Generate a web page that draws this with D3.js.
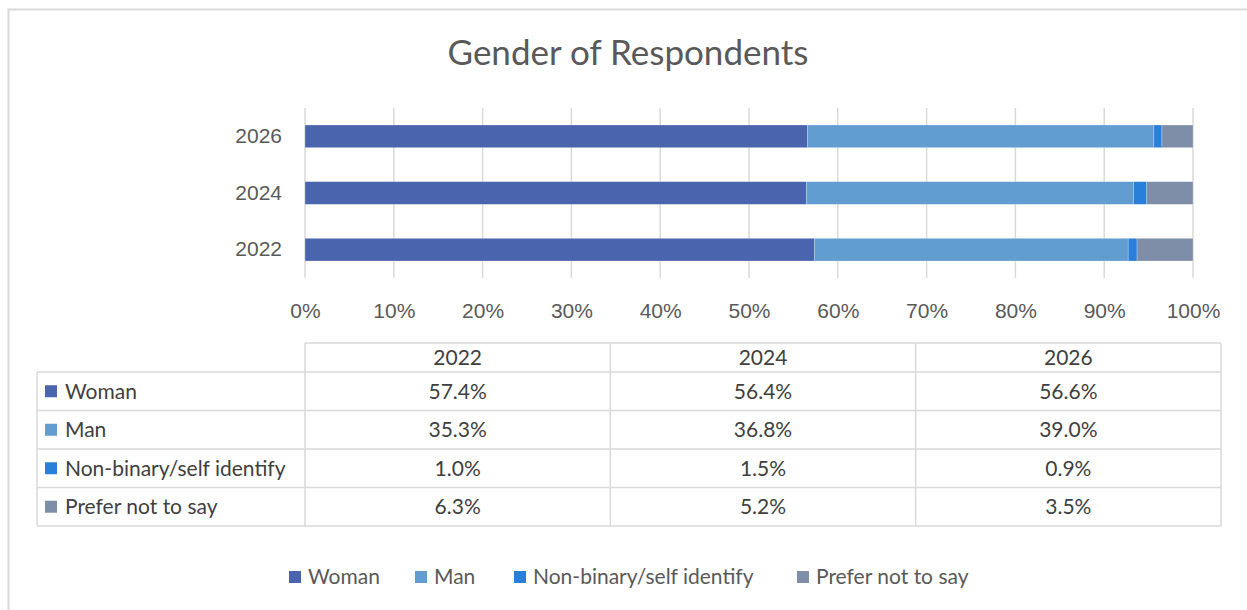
<!DOCTYPE html>
<html>
<head>
<meta charset="utf-8">
<script src="https://cdn.jsdelivr.net/npm/d3@7"></script>
<style>
  body { margin: 0; background: #fff; }
  svg { display: block; font-family: Lato, "Open Sans", sans-serif; }
</style>
</head>
<body>
<div id="chart"></div>
<script>
// data
const years = ["2022", "2024", "2026"];
const categories = ["Woman", "Man", "Non-binary/self identify", "Prefer not to say"];
const woman = [57.4, 56.4, 56.6];
const man = [35.3, 36.8, 39.0];
const nonBinary = [1.0, 1.5, 0.9];
const preferNot = [6.3, 5.2, 3.5];
const xTicks = [0, 10, 20, 30, 40, 50, 60, 70, 80, 90, 100];

const COLORS = ["#4a65ad", "#619dd1", "#2a7fd8", "#7f8ea8"];
const GRID = "#d9d9d9";
const TEXT = "#595959";
const FS = "21px";

const series = [woman, man, nonBinary, preferNot];

const W = 1247, H = 610;
const svg = d3.select("#chart").append("svg")
    .attr("width", W).attr("height", H);

// chart frame (runs off the right and bottom edge like the picture)
svg.append("rect")
    .attr("x", 8.5).attr("y", 9.5)
    .attr("width", 1260).attr("height", 620)
    .attr("fill", "none").attr("stroke", GRID).attr("stroke-width", 2);

svg.append("text")
    .attr("x", 628).attr("y", 65)
    .attr("text-anchor", "middle")
    .attr("fill", TEXT)
    .style("font-size", "35px")
    .text("Gender of Respondents");

// stack the data, normalised to 100 like an Excel 100% bar chart
const rows = years.map((y, i) => {
    const r = { year: y };
    const total = d3.sum(series, s => s[i]);
    categories.forEach((c, k) => r[c] = series[k][i] / total * 100);
    return r;
});
const stacked = d3.stack().keys(categories)(rows);

const x = d3.scaleLinear().domain([0, 100]).range([305, 1193]);
const y = d3.scaleBand().domain(years.slice().reverse()).range([108, 278]).paddingInner(0.6).paddingOuter(0.3);

// gridlines
svg.append("g")
    .selectAll("line")
    .data(xTicks)
    .join("line")
    .attr("x1", d => x(d)).attr("x2", d => x(d))
    .attr("y1", 108).attr("y2", 278)
    .attr("stroke", GRID).attr("stroke-width", 1.5);

svg.append("g")
    .selectAll("g")
    .data(stacked)
    .join("g")
    .attr("fill", (d, i) => COLORS[i])
    .selectAll("rect")
    .data(d => d)
    .join("rect")
    .attr("x", d => x(d[0]))
    .attr("width", d => x(d[1]) - x(d[0]))
    .attr("y", d => y(d.data.year))
    .attr("height", y.bandwidth())
    .attr("stroke", "#ffffff").attr("stroke-opacity", 0.4).attr("stroke-width", 0.6);

// axes
const xAxis = svg.append("g")
    .attr("transform", "translate(0,278)")
    .call(d3.axisBottom(x).tickValues(xTicks).tickSize(0).tickPadding(25).tickFormat(d => d + "%"));
xAxis.select(".domain").remove();
xAxis.selectAll("text").attr("fill", TEXT).style("font-size", FS);

const yAxis = svg.append("g")
    .attr("transform", "translate(282,0)")
    .call(d3.axisLeft(y).tickSize(0).tickPadding(0));
yAxis.select(".domain").remove();
yAxis.selectAll("text").attr("fill", TEXT).style("font-size", FS);

// data table
const colX = d3.scaleBand().domain(years).range([305, 1221]);
const headTop = 343, headBottom = 372;
const rowY = d3.scaleBand().domain(categories).range([headBottom, 526]);
const tbl = svg.append("g");
const line = (x1, y1, x2, y2) => tbl.append("line")
    .attr("x1", x1).attr("y1", y1).attr("x2", x2).attr("y2", y2)
    .attr("stroke", GRID).attr("stroke-width", 1.5);

line(305, headTop, 1221, headTop);
categories.forEach(c => line(37, rowY(c), 1221, rowY(c)));
line(37, 526, 1221, 526);
line(37, headBottom, 37, 526);
years.forEach(yr => line(colX(yr), headTop, colX(yr), 526));
line(1221, headTop, 1221, 526);

tbl.selectAll("text.head")
    .data(years)
    .join("text")
    .attr("class", "head")
    .attr("x", d => colX(d) + colX.bandwidth() / 2)
    .attr("y", (headTop + headBottom) / 2)
    .attr("dy", "0.35em")
    .attr("text-anchor", "middle")
    .attr("fill", "#404040")
    .style("font-size", FS)
    .text(d => d);

categories.forEach((c, k) => {
    const cy = rowY(c) + rowY.bandwidth() / 2;
    tbl.append("rect")
        .attr("x", 45).attr("y", cy - 6).attr("width", 12).attr("height", 12)
        .attr("fill", COLORS[k]);
    tbl.append("text")
        .attr("x", 65).attr("y", cy).attr("dy", "0.35em")
        .attr("fill", "#404040")
        .style("font-size", FS)
        .text(c);
    tbl.selectAll(null)
        .data(years)
        .join("text")
        .attr("x", d => colX(d) + colX.bandwidth() / 2)
        .attr("y", cy).attr("dy", "0.35em")
        .attr("text-anchor", "middle")
        .attr("fill", "#404040")
        .style("font-size", FS)
        .text((d, i) => series[k][i].toFixed(1) + "%");
});

// legend
const legendX = [289, 415, 514, 797];
const legend = svg.append("g")
    .selectAll("g")
    .data(categories)
    .join("g")
    .attr("transform", (d, i) => `translate(${legendX[i]},577)`);
legend.append("rect")
    .attr("x", 0).attr("y", -6).attr("width", 12).attr("height", 12)
    .attr("fill", (d, i) => COLORS[i]);
legend.append("text")
    .attr("x", 19).attr("dy", "0.35em")
    .attr("fill", TEXT)
    .style("font-size", FS)
    .text(d => d);
</script>
</body>
</html>
